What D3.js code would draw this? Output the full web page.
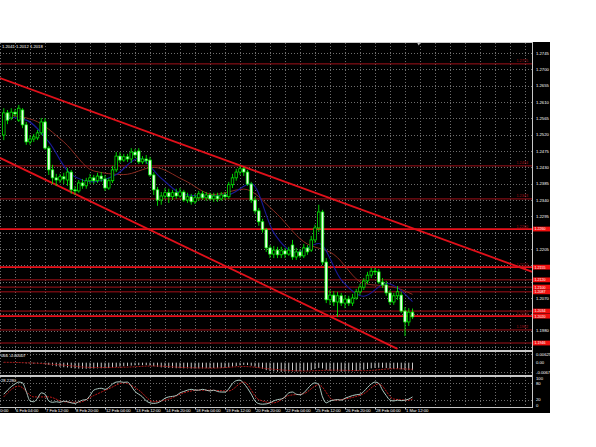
<!DOCTYPE html>
<html><head><meta charset="utf-8">
<script src="https://cdn.jsdelivr.net/npm/d3@7/dist/d3.min.js"></script>
<style>body{margin:0;background:#fff}svg{display:block}text{font-family:"Liberation Sans",Arial,sans-serif}</style>
</head><body><svg id="c" width="596" height="447"></svg>
<script>
// ---------- DATA ----------
const opens=[1.2519,1.2580,1.2566,1.2582,1.2560,1.2588,1.2547,1.2500,1.2508,1.2511,1.2525,1.2555,1.2483,1.2423,1.2401,1.2395,1.2404,1.2395,1.2417,1.2368,1.2365,1.2387,1.2379,1.2393,1.2401,1.2393,1.2406,1.2398,1.2373,1.2393,1.2423,1.2461,1.2450,1.2459,1.2453,1.2472,1.2475,1.2445,1.2453,1.2450,1.2409,1.2368,1.2340,1.2351,1.2360,1.2349,1.2360,1.2351,1.2362,1.2340,1.2349,1.2335,1.2346,1.2357,1.2346,1.2354,1.2343,1.2351,1.2343,1.2354,1.2349,1.2382,1.2401,1.2417,1.2426,1.2417,1.2384,1.2340,1.2310,1.2280,1.2258,1.2208,1.2191,1.2202,1.2189,1.2200,1.2191,1.2216,1.2183,1.2197,1.2186,1.2208,1.2202,1.2230,1.2263,1.2307,1.2169,1.2065,1.2078,1.2059,1.2076,1.2056,1.2067,1.2056,1.2070,1.2087,1.2100,1.2117,1.2133,1.2144,1.2142,1.2114,1.2106,1.2084,1.2059,1.2076,1.2078,1.2034,1.2004,1.2031];
const highs=[1.2593,1.2588,1.2593,1.2591,1.2602,1.2593,1.2555,1.2519,1.2522,1.2533,1.2566,1.2566,1.2489,1.2437,1.2412,1.2412,1.2415,1.2428,1.2423,1.2379,1.2395,1.2398,1.2401,1.2412,1.2409,1.2415,1.2417,1.2409,1.2401,1.2434,1.2472,1.2472,1.2467,1.2467,1.2483,1.2481,1.2483,1.2461,1.2464,1.2459,1.2417,1.2376,1.2362,1.2373,1.2371,1.2368,1.2371,1.2373,1.2368,1.2360,1.2357,1.2357,1.2365,1.2365,1.2362,1.2360,1.2360,1.2360,1.2362,1.2362,1.2390,1.2412,1.2426,1.2434,1.2431,1.2423,1.2390,1.2349,1.2318,1.2288,1.2263,1.2216,1.2213,1.2211,1.2211,1.2208,1.2211,1.2230,1.2208,1.2205,1.2219,1.2216,1.2241,1.2272,1.2327,1.2313,1.2180,1.2092,1.2089,1.2087,1.2084,1.2078,1.2076,1.2081,1.2095,1.2109,1.2125,1.2142,1.2153,1.2153,1.2150,1.2125,1.2117,1.2092,1.2084,1.2103,1.2087,1.2045,1.2042,1.2041];
const lows=[1.2505,1.2549,1.2560,1.2569,1.2555,1.2538,1.2492,1.2492,1.2500,1.2505,1.2519,1.2478,1.2409,1.2384,1.2379,1.2387,1.2384,1.2379,1.2357,1.2354,1.2360,1.2371,1.2371,1.2384,1.2384,1.2387,1.2390,1.2365,1.2368,1.2387,1.2417,1.2442,1.2445,1.2445,1.2442,1.2456,1.2439,1.2439,1.2439,1.2404,1.2354,1.2324,1.2327,1.2343,1.2332,1.2340,1.2343,1.2346,1.2335,1.2332,1.2327,1.2329,1.2338,1.2340,1.2338,1.2338,1.2335,1.2335,1.2338,1.2340,1.2343,1.2373,1.2393,1.2409,1.2406,1.2379,1.2332,1.2302,1.2269,1.2250,1.2197,1.2180,1.2180,1.2180,1.2180,1.2180,1.2186,1.2175,1.2175,1.2180,1.2180,1.2189,1.2197,1.2222,1.2252,1.2161,1.2056,1.2051,1.2048,1.2018,1.2048,1.2042,1.2048,1.2048,1.2065,1.2078,1.2092,1.2109,1.2125,1.2133,1.2109,1.2098,1.2076,1.2051,1.2051,1.2065,1.2029,1.1965,1.1993,1.2012];
const closes=[1.2580,1.2560,1.2582,1.2577,1.2593,1.2547,1.2500,1.2508,1.2514,1.2525,1.2555,1.2483,1.2423,1.2401,1.2395,1.2404,1.2398,1.2417,1.2368,1.2365,1.2387,1.2379,1.2393,1.2401,1.2393,1.2406,1.2398,1.2373,1.2393,1.2423,1.2461,1.2450,1.2459,1.2453,1.2472,1.2464,1.2445,1.2453,1.2448,1.2409,1.2368,1.2340,1.2351,1.2360,1.2349,1.2360,1.2351,1.2362,1.2340,1.2349,1.2335,1.2346,1.2357,1.2346,1.2354,1.2343,1.2351,1.2343,1.2354,1.2349,1.2382,1.2401,1.2417,1.2426,1.2417,1.2384,1.2340,1.2310,1.2280,1.2258,1.2208,1.2191,1.2202,1.2189,1.2200,1.2191,1.2202,1.2183,1.2197,1.2186,1.2208,1.2197,1.2230,1.2263,1.2307,1.2169,1.2065,1.2078,1.2059,1.2076,1.2056,1.2067,1.2056,1.2070,1.2087,1.2100,1.2117,1.2133,1.2144,1.2142,1.2114,1.2106,1.2084,1.2059,1.2076,1.2087,1.2034,1.2004,1.2031,1.2018];

const maRedBars=[0,8,16,24,32,40,48,56,64,72,80,88,96,104,109];
const maRedVals=[1.2575,1.2560,1.2500,1.2420,1.2410,1.2430,1.2395,1.2355,1.2370,1.2310,1.2225,1.2190,1.2110,1.2100,1.2080];
const maBlueBars=[0,6,12,18,24,30,36,42,48,54,60,66,72,78,84,90,96,102,109];
const maBlueVals=[1.2570,1.2560,1.2500,1.2410,1.2390,1.2410,1.2455,1.2400,1.2355,1.2350,1.2355,1.2385,1.2250,1.2195,1.2220,1.2120,1.2075,1.2110,1.2060];

const channelUpper={bars:[-1,141],prices:[1.2676,1.2142]};
const channelLower={bars:[-1,105],prices:[1.2456,1.1930]};

const levelPrices=[1.2715,1.2434,1.2343,1.2260,1.2155,1.2120,1.2100,1.2087,1.2034,1.2020,1.1982,1.1946];
const levelStrong=[false,false,false,true,true,false,false,false,false,true,false,false];
const levelBoxed=[false,false,false,true,true,true,true,true,true,true,false,true];

const priceTicks=[1.2745,1.2700,1.2655,1.2610,1.2565,1.2520,1.2475,1.2430,1.2385,1.2340,1.2295,1.2250,1.2205,1.2160,1.2115,1.2070,1.2025,1.1980,1.1935];
const timeLabels=["4 Feb 20:00","6 Feb 04:00","7 Feb 12:00","8 Feb 20:00","12 Feb 04:00","13 Feb 12:00","14 Feb 20:00","18 Feb 04:00","19 Feb 12:00","20 Feb 20:00","22 Feb 04:00","25 Feb 12:00","26 Feb 20:00","28 Feb 04:00","1 Mar 12:00"];
const timeLabelBars=[-5,3,11,19,27,35,43,51,59,67,75,83,91,99,107];

const macdHist=[0.0002,0.0001,0.0001,0,-0.0001,-0.0003,-0.0005,-0.0006,-0.0007,-0.0007,-0.0006,-0.0009,
-0.0015,-0.0021,-0.0026,-0.0030,-0.0033,-0.0035,-0.0039,-0.0042,-0.0043,-0.0044,-0.0044,-0.0043,
-0.0042,-0.0041,-0.0040,-0.0040,-0.0039,-0.0036,-0.0031,-0.0028,-0.0026,-0.0024,-0.0021,-0.0019,
-0.0018,-0.0018,-0.0018,-0.0021,-0.0026,-0.0031,-0.0034,-0.0036,-0.0038,-0.0039,-0.0040,-0.0040,
-0.0041,-0.0041,-0.0042,-0.0042,-0.0041,-0.0041,-0.0040,-0.0040,-0.0039,-0.0039,-0.0038,-0.0038,
-0.0034,-0.0029,-0.0024,-0.0019,-0.0016,-0.0017,-0.0022,-0.0029,-0.0037,-0.0045,-0.0054,-0.0060,
-0.0063,-0.0065,-0.0066,-0.0066,-0.0065,-0.0064,-0.0063,-0.0062,-0.0060,-0.0058,-0.0053,-0.0046,
-0.0038,-0.0042,-0.0052,-0.0058,-0.0062,-0.0064,-0.0065,-0.0065,-0.0064,-0.0063,-0.0060,-0.0056,
-0.0051,-0.0046,-0.0041,-0.0038,-0.0037,-0.0037,-0.0039,-0.0043,-0.0045,-0.0045,-0.0048,-0.0053,-0.0054,-0.0055];
const macdSignalBars=[0,8,16,24,32,40,48,56,64,72,80,88,96,104,109];
const macdSignalVals=[0.0003,-0.0003,-0.0018,-0.0035,-0.0033,-0.0024,-0.0035,-0.0039,-0.0028,-0.0048,-0.0060,-0.0054,-0.0058,-0.0044,-0.0048];
const macdTicks=[0.00625,0,-0.00674];
const macdTickLabels=["0.00625","0.00","-0.00674"];

const stochK=[40,55,68,78,85,82,50,15,12,25,45,40,15,10,12,10,14,12,8,6,12,18,20,35,55,60,62,58,65,78,85,86,84,85,70,50,40,30,15,8,6,8,15,25,30,32,35,45,50,55,58,55,55,58,55,52,55,50,48,48,60,80,90,92,80,62,40,15,5,3,4,8,15,20,22,30,45,48,40,38,45,60,75,82,75,30,8,15,18,20,18,25,30,35,38,40,50,65,78,85,80,55,35,18,15,18,16,18,22,30];
const stochSigBars=[0,4,8,12,16,20,24,28,32,36,40,44,48,52,56,60,64,68,72,76,80,84,88,92,96,100,104,108,109];
const stochSigVals=[30,70,30,30,12,10,35,60,82,55,12,22,45,55,54,52,85,20,8,35,42,75,18,25,42,78,22,18,22];
const stochTicks=[100,80,20,0];

const headerText="1.2041 1.2012 1.2018";
const macdText="066 -0.00007";
const stochText="28.2280";

// ---------- LAYOUT ----------
const svg=d3.select("#c");
const R=532,AX=550, T=43, MB=350, M2T=352, M2B=375, M3T=377, M3B=407, BOT=413;
const x=d3.scaleLinear().domain([-1,-1+R/3.75]).range([0,R]);
const y=d3.scaleLinear().domain([1.1935,1.2745]).range([347,53]);
const yM=d3.scaleLinear().domain([-0.00674,0.00625]).range([372,354]);
const yS=d3.scaleLinear().domain([0,100]).range([405,378]);
const fs=4.2;

svg.append("rect").attr("x",0).attr("y",42).attr("width",AX).attr("height",BOT-42).attr("fill","#000");

const defs=svg.append("defs");
defs.append("clipPath").attr("id","cm").append("rect").attr("x",0).attr("y",T).attr("width",R).attr("height",MB-T);
defs.append("clipPath").attr("id","c2").append("rect").attr("x",0).attr("y",M2T).attr("width",R).attr("height",M2B-M2T);
defs.append("clipPath").attr("id","c3").append("rect").attr("x",0).attr("y",M3T).attr("width",R).attr("height",M3B-M3T);

const gridCol="#6e6e6e";
const vg=d3.range(-1,141,4);
[[T,MB],[M2T,M2B],[M3T,M3B]].forEach(([a,b])=>{
  svg.append("g").selectAll("line").data(vg).join("line")
    .attr("x1",d=>Math.round(x(d))+0.5).attr("x2",d=>Math.round(x(d))+0.5).attr("y1",a).attr("y2",b)
    .attr("stroke",gridCol).attr("stroke-dasharray","1,2").attr("stroke-width",1);
});
svg.append("g").selectAll("line").data(priceTicks).join("line")
  .attr("x1",0).attr("x2",R).attr("y1",d=>Math.round(y(d))+0.5).attr("y2",d=>Math.round(y(d))+0.5)
  .attr("stroke",gridCol).attr("stroke-dasharray","1,2");
svg.append("g").selectAll("line").data([0.00625,-0.00674]).join("line")
  .attr("x1",0).attr("x2",R).attr("y1",d=>Math.round(yM(d))+0.5).attr("y2",d=>Math.round(yM(d))+0.5)
  .attr("stroke",gridCol).attr("stroke-dasharray","1,2");
svg.append("g").selectAll("line").data([80,20]).join("line")
  .attr("x1",0).attr("x2",R).attr("y1",d=>Math.round(yS(d))+0.5).attr("y2",d=>Math.round(yS(d))+0.5)
  .attr("stroke",gridCol).attr("stroke-dasharray","1,2");

const gm=svg.append("g").attr("clip-path","url(#cm)");
levelPrices.forEach((p,i)=>{
  gm.append("line").attr("x1",0).attr("x2",R).attr("y1",y(p)).attr("y2",y(p))
    .attr("stroke",levelStrong[i]?"#e8101a":"#a01018").attr("stroke-width",levelStrong[i]?1.8:1);
});
[channelUpper,channelLower].forEach(c=>{
  gm.append("line").attr("x1",x(c.bars[0])).attr("y1",y(c.prices[0])).attr("x2",x(c.bars[1])).attr("y2",y(c.prices[1]))
   .attr("stroke","#e0101a").attr("stroke-width",1.8);
});
const lineMA=d3.line().x(d=>x(d[0])).y(d=>y(d[1])).curve(d3.curveMonotoneX);
gm.append("path").attr("d",lineMA(maRedBars.map((b,i)=>[b,maRedVals[i]]))).attr("fill","none").attr("stroke","#8a2a20").attr("stroke-width",1);
gm.append("path").attr("d",lineMA(maBlueBars.map((b,i)=>[b,maBlueVals[i]]))).attr("fill","none").attr("stroke","#1a1a98").attr("stroke-width",1.1);

const idx=d3.range(closes.length);
gm.append("g").selectAll("line").data(idx).join("line")
  .attr("x1",i=>x(i)).attr("x2",i=>x(i)).attr("y1",i=>y(highs[i])).attr("y2",i=>y(lows[i]))
  .attr("stroke","#00ff00").attr("stroke-width",0.8);
gm.append("g").selectAll("rect").data(idx).join("rect")
  .attr("x",i=>x(i)-1.3).attr("width",2.6)
  .attr("y",i=>y(Math.max(opens[i],closes[i])))
  .attr("height",i=>Math.max(0.6,Math.abs(y(opens[i])-y(closes[i]))))
  .attr("fill",i=>closes[i]>=opens[i]?"#000":"#e8ffe8").attr("stroke","#00ff00").attr("stroke-width",0.7);

const g2=svg.append("g").attr("clip-path","url(#c2)");
g2.append("g").selectAll("line").data(idx).join("line")
  .attr("x1",i=>x(i)).attr("x2",i=>x(i)).attr("y1",yM(0)).attr("y2",i=>yM(macdHist[i]))
  .attr("stroke","#c8c8c8").attr("stroke-width",1);
g2.append("path").attr("d",d3.line().x(d=>x(d[0])).y(d=>yM(d[1])).curve(d3.curveMonotoneX)(macdSignalBars.map((b,i)=>[b,macdSignalVals[i]])))
  .attr("fill","none").attr("stroke","#a01818").attr("stroke-dasharray","2,1");

const g3=svg.append("g").attr("clip-path","url(#c3)");
g3.append("path").attr("d",d3.line().x(d=>x(d[0])).y(d=>yS(d[1])).curve(d3.curveMonotoneX)(stochSigBars.map((b,i)=>[b,stochSigVals[i]])))
  .attr("fill","none").attr("stroke","#c01818").attr("stroke-dasharray","2,1");
g3.append("path").attr("d",d3.line().x((d,i)=>x(i)).y(d=>yS(d)).curve(d3.curveMonotoneX)(stochK))
  .attr("fill","none").attr("stroke","#b0ccc4").attr("stroke-width",1);

const frameCol="#c8c8c8";
[[T,MB],[M2T,M2B],[M3T,M3B]].forEach(([a,b])=>{
  svg.append("rect").attr("x",-1).attr("y",a-0.5).attr("width",R+1.5).attr("height",b-a+1)
    .attr("fill","none").attr("stroke",frameCol).attr("stroke-width",1);
});

// price axis labels (hidden where a level box covers them, as on the original)
const boxedYs=levelPrices.filter((p,i)=>levelBoxed[i]).map(p=>y(p));
svg.append("g").selectAll("text").data(priceTicks.filter(d=>!boxedYs.some(b=>Math.abs(b-y(d))<4.5))).join("text")
  .attr("x",R+4).attr("y",d=>y(d)+1.5).attr("fill","#fff").attr("font-size",fs).text(d=>d.toFixed(4));
svg.append("g").selectAll("text").data(macdTicks).join("text")
  .attr("x",R+4).attr("y",d=>yM(d)+1.5).attr("fill","#fff").attr("font-size",fs).text((d,i)=>macdTickLabels[i]);
svg.append("g").selectAll("text").data(stochTicks).join("text")
  .attr("x",R+4).attr("y",d=>yS(d)+1.5).attr("fill","#fff").attr("font-size",fs).text(d=>d);

// level boxes on axis
levelPrices.forEach((p,i)=>{
  if(!levelBoxed[i]) return;
  svg.append("rect").attr("x",R+1).attr("y",y(p)-2.4).attr("width",17).attr("height",4.8).attr("fill","#f01010");
  svg.append("text").attr("x",R+2.5).attr("y",y(p)+1.4).attr("fill","#fff").attr("font-size",3.6).text(p.toFixed(4));
});
// small level names near right end of lines
levelPrices.forEach((p,i)=>{
  if(levelBoxed[i]&&!levelStrong[i]) return;
  svg.append("text").attr("x",R-4).attr("y",y(p)-1.5).attr("text-anchor","end").attr("fill","#a01018").attr("font-size",3.8).text(p.toFixed(4));
});

svg.append("g").selectAll("text").data(timeLabelBars).join("text")
  .attr("x",d=>x(d)+1).attr("y",411.5).attr("fill","#fff").attr("font-size",fs).text((d,i)=>timeLabels[i]);
svg.append("g").selectAll("line").data(timeLabelBars).join("line")
  .attr("x1",d=>Math.round(x(d))+0.5).attr("x2",d=>Math.round(x(d))+0.5).attr("y1",M3B).attr("y2",M3B+2.5).attr("stroke","#c8c8c8");

svg.append("text").attr("x",2).attr("y",48).attr("fill","#fff").attr("font-size",fs).text(headerText);
svg.append("text").attr("x",1).attr("y",357).attr("fill","#fff").attr("font-size",fs).text(macdText);
svg.append("text").attr("x",1).attr("y",382).attr("fill","#fff").attr("font-size",fs).text(stochText);
svg.append("path").attr("d",`M${x(110)+1},43 l3,0 l-1.5,2.5 z`).attr("fill","#c8c8c8");
</script></body></html>
